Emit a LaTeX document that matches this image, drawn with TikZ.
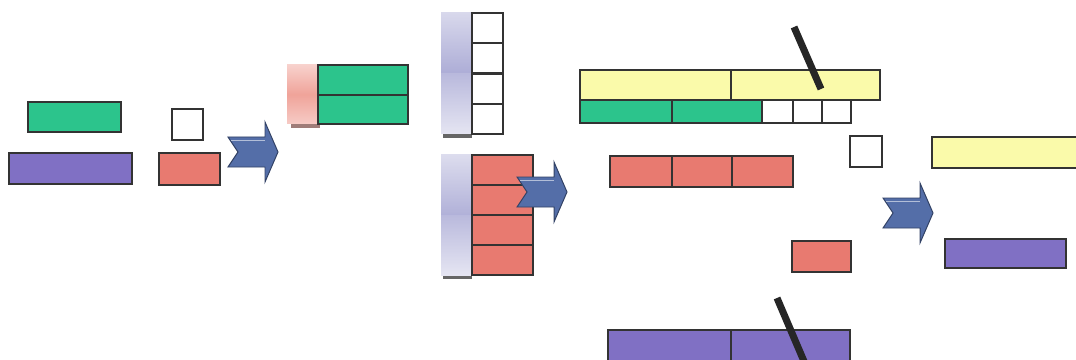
\documentclass[tikz,border=0pt]{standalone}
\definecolor{bargreen}{RGB}{44,196,140}
\definecolor{barpurple}{RGB}{128,112,196}
\definecolor{barred}{RGB}{232,122,112}
\definecolor{baryellow}{RGB}{250,250,170}
\definecolor{arrowblue}{RGB}{84,110,168}
\definecolor{lavcol}{RGB}{168,168,212}
\definecolor{salmcol}{RGB}{236,140,128}
\tikzset{
  bar/.style={draw=black!80, line width=1pt},
  cell/.style={bar, fill=white},
  stick/.style={line width=5pt, draw=black!85},
  shadowbar/.style={fill=black!60},
  pics/bigarrow/.style={code={
    \filldraw[fill=arrowblue, draw=arrowblue!60!black, line width=0.7pt]
      (-50,-15) -- (-13,-15) -- (-13,-30) -- (0,0) -- (-13,30) -- (-13,15)
      -- (-50,15) -- (-40,0) -- cycle;
    \draw[arrowblue!45!white, line width=0.5pt] (-47,-12) -- (-13,-12);
  }}
}
\begin{document}
\begin{tikzpicture}[x=0.025cm, y=-0.025cm]
  \useasboundingbox (0,0) rectangle (1076,360);

  % left: two bars, empty cell and red piece
  \filldraw[bar, fill=bargreen] (28,102) rectangle (121,132);
  \filldraw[bar, fill=barpurple] (9,153) rectangle (132,184);
  \draw[cell] (172,109) rectangle (203,140);
  \filldraw[bar, fill=barred] (159,153) rectangle (220,185);
  \pic at (278,152) {bigarrow};

  % salmon end with two green rows
  \fill[salmcol!50!black!70] (291,118) rectangle (320,128);
  \shade[top color=salmcol!40, bottom color=salmcol!45, middle color=salmcol!80]
    (287,65) rectangle (318,124);
  \filldraw[bar, fill=bargreen] (318,65) rectangle (408,95);
  \filldraw[bar, fill=bargreen] (318,95) rectangle (408,124);

  % lavender column with empty cells
  \fill[shadowbar] (443,128) rectangle (472,138);
  \shade[top color=lavcol!45, bottom color=lavcol!95] (441,13) rectangle (472,74);
  \shade[top color=lavcol!80, bottom color=lavcol!30] (441,74) rectangle (472,134);
  \foreach \y in {13,43,74,104}
    \draw[cell] (472,\y) rectangle (503,\y+30);

  % lavender column with red cells
  \fill[shadowbar] (443,269) rectangle (472,279);
  \shade[top color=lavcol!40, bottom color=lavcol!90] (441,155) rectangle (472,215);
  \shade[top color=lavcol!80, bottom color=lavcol!30] (441,215) rectangle (472,275);
  \foreach \y in {155,185,215,245}
    \filldraw[bar, fill=barred] (472,\y) rectangle (533,\y+30);
  \pic at (567,192) {bigarrow};

  % long yellow bar over green row and empty cells
  \filldraw[bar, fill=baryellow] (580,70) rectangle (731,100);
  \filldraw[bar, fill=baryellow] (731,70) rectangle (880,100);
  \filldraw[bar, fill=bargreen] (580,100) rectangle (672,123);
  \filldraw[bar, fill=bargreen] (672,100) rectangle (762,123);
  \foreach \x/\w in {762/793,793/822,822/851}
    \draw[cell] (\x,100) rectangle (\w,123);
  \draw[stick] (794,27) -- (821,89);
  \draw[cell] (850,136) rectangle (882,167);

  % red row and single red piece
  \foreach \x/\w in {610/672,672/732,732/793}
    \filldraw[bar, fill=barred] (\x,156) rectangle (\w,187);
  \filldraw[bar, fill=barred] (792,241) rectangle (851,272);

  % purple row at the bottom, cut
  \filldraw[bar, fill=barpurple] (608,330) rectangle (731,366);
  \filldraw[bar, fill=barpurple] (731,330) rectangle (850,366);
  \draw[stick] (777,298) -- (806,366);

  % right: results
  \pic at (933,213) {bigarrow};
  \filldraw[bar, fill=baryellow] (932,137) rectangle (1082,168);
  \filldraw[bar, fill=barpurple] (945,239) rectangle (1066,268);
\end{tikzpicture}
\end{document}
